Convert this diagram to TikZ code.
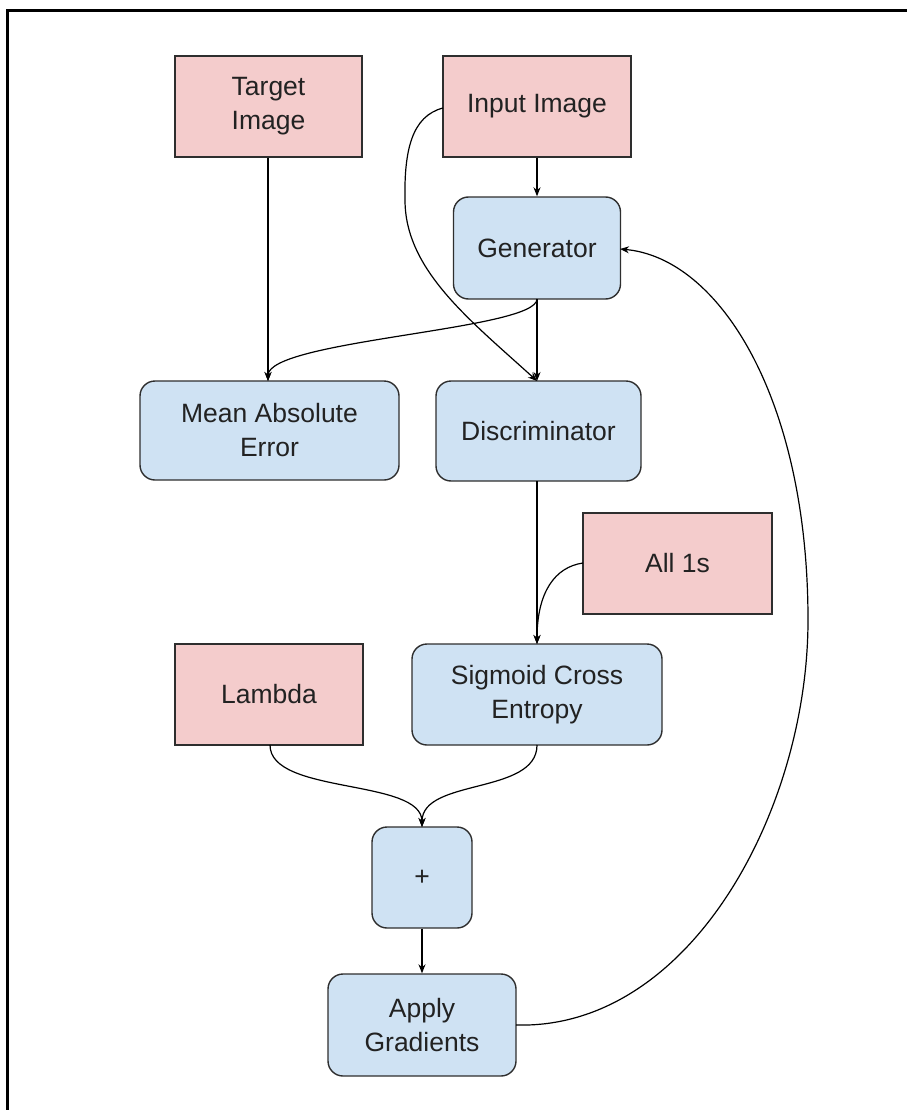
\documentclass[tikz,border=0pt]{standalone}
\usepackage{fontspec}
\setmainfont{Liberation Sans}
\usetikzlibrary{arrows.meta}
\definecolor{pinkfill}{HTML}{F4CCCC}
\definecolor{bluefill}{HTML}{CFE2F3}
\definecolor{edgecol}{HTML}{2E2E2E}
\definecolor{txtcol}{HTML}{222222}
\begin{document}
\begin{tikzpicture}[x=1pt,y=-1pt,
  basebox/.style={draw=edgecol, line width=1.4pt, inner sep=0pt, align=center,
    text=txtcol, font={\fontsize{26.5}{34}\selectfont}},
  pinkbox/.style={basebox, fill=pinkfill},
  bluebox/.style={basebox, fill=bluefill, rounded corners=15pt},
  conn/.style={draw=black, line width=1.2pt},
  arr/.style={conn, -{Stealth[length=9pt,width=7pt]}}
]
\useasboundingbox (0,0) rectangle (907,1110);
% frame (top and left edges only)
\draw[line width=3pt, black] (7,1110) -- (7,11) -- (907,11);

\node[pinkbox, minimum width=187pt, minimum height=101pt] (target) at (268.5,106.5) {Target\\Image};
\node[pinkbox, minimum width=188pt, minimum height=101pt] (input) at (537,106.5) {Input Image};
\node[bluebox, minimum width=167pt, minimum height=102pt] (gen) at (537,248) {Generator};
\node[bluebox, minimum width=259pt, minimum height=99pt] (mae) at (269.5,430.5) {Mean Absolute\\Error};
\node[bluebox, minimum width=205pt, minimum height=100pt] (disc) at (538.5,431) {Discriminator};
\node[pinkbox, minimum width=189pt, minimum height=101pt] (ones) at (677.5,563.5) {All 1s};
\node[pinkbox, minimum width=188pt, minimum height=101pt] (lambda) at (269,694.5) {Lambda};
\node[bluebox, minimum width=250pt, minimum height=101pt] (sig) at (537,694.5) {Sigmoid Cross\\Entropy};
\node[bluebox, minimum width=100pt, minimum height=101pt] (plus) at (422,877.5) {+};
\node[bluebox, minimum width=188pt, minimum height=102pt] (apply) at (422,1025) {Apply\\Gradients};

\coordinate (dtop) at (537,381);
\coordinate (mtop) at (268,381);
\coordinate (gbot) at (537,299);
\coordinate (ptop) at (422,827);
\coordinate (inleft) at (443,108);
\coordinate (inbend) at (405,200);
\coordinate (fbend) at (808,620);
\coordinate (genright) at (620,249);
\coordinate (applyright) at (516,1025);
\coordinate (onesleft) at (583,563);
\coordinate (stop) at (537,644);
\coordinate (dbot) at (537,481);
\coordinate (lbot) at (270,745);
\coordinate (sbot) at (537,745);

\draw[arr] (target.south -| mtop) -- (mtop);
\draw[arr] (input.south) -- (gen.north);
\draw[arr] (gbot) -- (dtop);
\draw[arr] (gbot) .. controls (537,330) and (268,340) .. (mtop);
\draw[arr] (inleft) .. controls (412,116) and (404,150) .. (inbend)
  .. controls (405,270) and (470,320) .. (dtop);
\draw[arr] (dbot) -- (stop);
\draw[arr] (onesleft) .. controls (555,567) and (537,592) .. (stop);
\draw[arr] (lbot) .. controls (270,795) and (422,778) .. (ptop);
\draw[arr] (sbot) .. controls (537,795) and (422,778) .. (ptop);
\draw[arr] (plus.south) -- (apply.north);
\draw[arr] (applyright) .. controls (690,1030) and (808,810) .. (fbend)
  .. controls (808,400) and (720,258) .. (genright);
\end{tikzpicture}
\end{document}
